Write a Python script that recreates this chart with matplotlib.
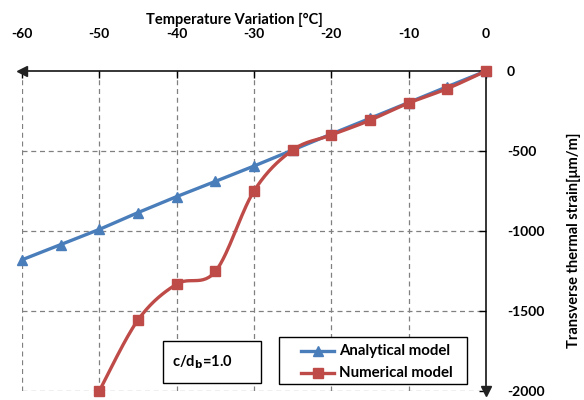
import numpy as np
import matplotlib
matplotlib.use("Agg")
import matplotlib.pyplot as plt
from matplotlib.lines import Line2D
from matplotlib.patches import Rectangle

plt.rcParams['font.family'] = ['Lato', 'DejaVu Sans']
plt.rcParams['font.weight'] = 'bold'

# Data
temp_analytical = [0, -5, -10, -15, -20, -25, -30, -35, -40, -45, -50, -55, -60]
strain_analytical = [0, -98, -197, -296, -394, -494, -594, -690, -785, -885, -990, -1085, -1180]
temp_numerical = [0, -5, -10, -15, -20, -25, -30, -35, -40, -45, -50]
strain_numerical = [0, -110, -200, -308, -400, -494, -750, -1253, -1332, -1556, -2000]
xticks = [-60, -50, -40, -30, -20, -10, 0]
yticks = [0, -500, -1000, -1500, -2000]
series_names = ['Analytical model', 'Numerical model']

BLUE = '#4A7EBB'
RED = '#BE4B48'

fig = plt.figure(figsize=(5.84, 4.0), dpi=100)
L, R, T, B = 22/584, 486/584, 1-71/400, 1-391/400
ax = fig.add_axes([L, B, R-L, T-B])
ax.set_xlim(-60, 0)
ax.set_ylim(-2000, 0)

def smooth(xs, ys, sx, sy, n=30):
    # Excel-like smoothed line (Catmull-Rom style Bezier) in pixel-proportional space
    P = np.column_stack([np.array(xs, float)*sx, np.array(ys, float)*sy])
    out = []
    m = len(P)
    for i in range(m-1):
        p0 = P[i-1] if i > 0 else P[i]
        p1 = P[i]
        p2 = P[i+1]
        p3 = P[i+2] if i+2 < m else P[i+1]
        c1 = p1 + (p2 - p0)/6
        c2 = p2 - (p3 - p1)/6
        t = np.linspace(0, 1, n)[:, None]
        seg = (1-t)**3*p1 + 3*(1-t)**2*t*c1 + 3*(1-t)*t**2*c2 + t**3*p2
        out.append(seg if i == 0 else seg[1:])
    S = np.vstack(out)
    return S[:, 0]/sx, S[:, 1]/sy

sx = 464/60.0
sy = 320/2000.0

# grid
for xv in xticks[:-1]:
    ax.plot([xv, xv], [-2000, 0], ls=(0, (4, 3)), color='#808080', lw=0.9, zorder=1)
for yv in yticks[1:]:
    ax.plot([-60, 0], [yv, yv], ls=(0, (4, 3)), color='#808080', lw=0.9, zorder=1)

ax.plot(temp_analytical, strain_analytical, color=BLUE, lw=2.4, marker='^',
        markersize=7.5, zorder=4, clip_on=False)
nx, ny = smooth(temp_numerical, strain_numerical, sx, sy)
ax.plot(nx, ny, color=RED, lw=2.4, zorder=5, clip_on=False)
ax.plot(temp_numerical, strain_numerical, ls='none', color=RED, marker='s',
        markersize=7.5, zorder=6, clip_on=False)

for s in ['left', 'bottom']:
    ax.spines[s].set_visible(False)
ax.spines['top'].set_linewidth(1.1)
ax.spines['right'].set_linewidth(1.1)
ax.spines['top'].set_zorder(3)
ax.spines['right'].set_zorder(3)

ax.xaxis.tick_top()
ax.yaxis.tick_right()
ax.set_xticks(xticks)
ax.set_yticks(yticks)
ax.set_xticklabels([str(v) for v in xticks], fontsize=10, fontweight='bold')
ax.set_yticklabels([str(v) for v in yticks], fontsize=10, fontweight='bold')
ax.tick_params(axis='x', direction='in', length=5, width=1, pad=22)
ax.tick_params(axis='y', direction='in', length=5, width=1, pad=15)
for lab in ax.get_yticklabels():
    lab.set_horizontalalignment('left')

# arrow heads
ax.plot(0, 1, marker='<', color='#222222', markersize=7, transform=ax.transAxes, clip_on=False, zorder=7)
ax.plot(1, 0, marker='v', color='#222222', markersize=7, transform=ax.transAxes, clip_on=False, zorder=7)

fig.text(234/584, 1-20/400, 'Temperature Variation [°C]', ha='center', va='center',
         fontsize=10.5, fontweight='bold')
fig.text(574/584, 1-240/400, 'Transverse thermal strain[μm/m]', ha='center', va='center',
         rotation=90, fontsize=10.5, fontweight='bold')

# legend drawn manually
fig.patches.append(Rectangle((279/584, 1-384/400), 188/584, 47/400, transform=fig.transFigure,
                             fc='white', ec='black', lw=1.0, zorder=9))
for name, col, mk, ypx in [(series_names[0], BLUE, '^', 351), (series_names[1], RED, 's', 373)]:
    yf = 1 - ypx/400
    fig.add_artist(Line2D([301/584, 334/584], [yf, yf], transform=fig.transFigure,
                          color=col, lw=2.4, zorder=10))
    fig.add_artist(Line2D([317.5/584], [yf], transform=fig.transFigure, color=col,
                          marker=mk, markersize=7.5, ls='none', zorder=11))
    fig.text(339/584, yf, name, ha='left', va='center', fontsize=10.8,
             fontweight='bold', zorder=11)

fig.patches.append(Rectangle((163/584, 1-383/400), 98/584, 42/400, transform=fig.transFigure,
                             fc='white', ec='black', lw=1.0, zorder=9))
fig.text(202/584, 1-362/400, 'c/d$_\\mathbf{b}$=1.0', ha='center', va='center', fontsize=10.5,
         fontweight='bold', zorder=10)

fig.savefig('out.png', dpi=100)
